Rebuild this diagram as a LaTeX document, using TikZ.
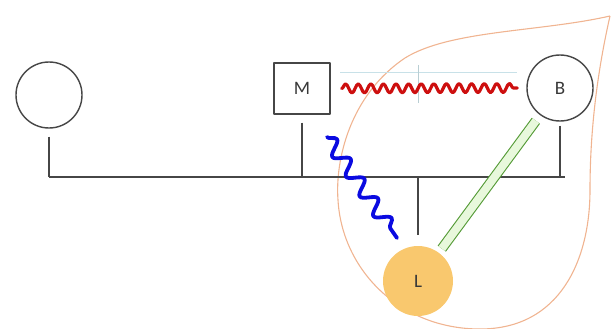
\documentclass[tikz,border=0pt]{standalone}
\usepackage{fontspec}
\setmainfont{Carlito}
\usetikzlibrary{decorations.pathmorphing}
\definecolor{linegray}{RGB}{70,70,70}
\definecolor{wavered}{RGB}{205,15,15}
\definecolor{waveblue}{RGB}{10,10,225}
\definecolor{leafline}{RGB}{240,180,145}
\definecolor{lfill}{RGB}{249,200,110}
\definecolor{bondgreen}{RGB}{85,155,55}
\definecolor{bondfill}{RGB}{232,248,220}
\definecolor{selline}{RGB}{200,225,232}

\begin{document}
\begin{tikzpicture}[x=1pt, y=-1pt, line join=round,
  lbl/.style={font=\fontsize{19}{19}\selectfont, text=linegray!80!black},
  box/.style={lbl, draw=linegray, line width=1.4pt, minimum width=56pt, minimum height=51pt},
  disc/.style={lbl, circle, draw=linegray, line width=1.4pt, minimum size=66pt},
  stem/.style={draw=linegray, line width=1.4pt},
  redwave/.style={wavered, line width=3.2pt, line cap=round, decorate,
    decoration={snake, segment length=12.6pt, amplitude=4.5pt}},
  bluewave/.style={waveblue, line width=3.8pt, line cap=round, decorate,
    decoration={snake, segment length=24pt, amplitude=7pt}},
  bond/.style={draw=bondgreen, double=bondfill, line width=1.1pt, double distance=8pt}]
\useasboundingbox (0,0) rectangle (611,329);

% leaf outline
\draw[leafline, line width=1.1pt] (610,16) .. controls (540,32) and (450,30) .. (405,58)
  .. controls (350,95) and (335,160) .. (338,200)
  .. controls (342,270) and (400,329) .. (480,329)
  .. controls (560,329) and (590,260) .. (590,190)
  .. controls (590,120) and (600,60) .. (610,16);

% units
\node[disc] (ring) at (49,95) {};
\node[box] (M) at (302,88.5) {M};
\node[disc] (B) at (560,88) {B};
\node[lbl, circle, fill=lfill, minimum size=70pt] (L) at (418,281) {L};

% bus
\coordinate (busW) at (49,177);
\coordinate (busE) at (565,177);
\draw[stem] (busW) -- (busE);
\draw[stem] ([yshift=-8pt]ring.south) -- (ring.south |- busW);
\draw[stem] ([yshift=-8pt]M.south) -- (M.south |- busW);
\draw[stem] ([yshift=-4pt]B.south) -- (B.south |- busW);
\draw[stem] (L.north |- busW) -- ([yshift=11pt]L.north);

% selection marks
\draw[selline, line width=0.6pt] (340,72) -- (517,72);
\draw[selline!80!gray, line width=0.6pt] (418,65) -- (418,103);

% waves
\draw[redwave] ([xshift=11pt]M.east) -- ([xshift=-9pt]B.west);
\coordinate (bstart) at (327,137);
\coordinate (bend) at (397,238);
\draw[bluewave] (bstart) -- (bend);

% bond
\draw[bond, shorten <=5pt, shorten >=7pt] (L) -- (B);
\end{tikzpicture}
\end{document}
